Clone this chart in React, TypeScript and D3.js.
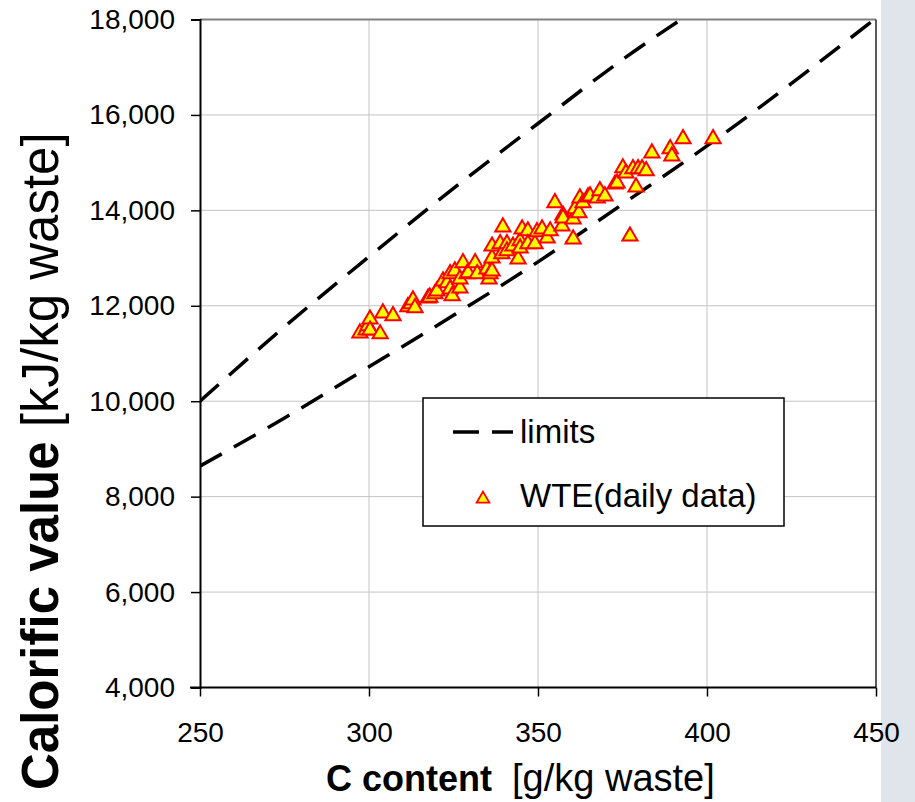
import React, { useEffect, useRef } from "react";
import * as d3 from "d3";

// C content [g/kg waste] of the daily WTE samples
const cContent = [
  297.3, 299.1, 299.7, 300.3, 300.3, 303.3, 304.1, 307.1, 311.5, 312.4,
  313.0, 313.6, 317.5, 318.0, 319.5, 320.1, 321.9, 323.1, 324.0, 324.0,
  324.6, 325.4, 326.9, 326.9, 327.8, 329.0, 329.3, 331.4, 332.0, 334.9,
  335.5, 335.8, 336.4, 336.4, 336.4, 338.8, 339.3, 339.6, 340.8, 340.8,
  342.6, 344.1, 344.7, 344.7, 345.3, 347.0, 347.0, 349.1, 349.7, 351.2,
  352.7, 353.6, 355.0, 357.1, 357.4, 357.4, 360.4, 360.4, 360.9, 362.1,
  362.4, 363.3, 364.8, 365.4, 367.5, 368.3, 369.8, 372.8, 373.4, 375.1,
  376.0, 377.2, 378.1, 379.0, 379.6, 380.8, 382.0, 383.7, 389.1, 389.6,
  392.9, 401.8,
];
// calorific value [kJ/kg waste] of the same samples
const calValue = [
  11450, 11510, 11600, 11740, 11510, 11430, 11870, 11810, 12000, 12060,
  12140, 11980, 12180, 12200, 12270, 12330, 12540, 12500, 12370, 12690,
  12230, 12750, 12390, 12580, 12920, 12690, 12710, 12920, 12690, 12790,
  12580, 12690, 12750, 13020, 13270, 13320, 13110, 13670, 13320, 13170,
  13270, 13000, 13380, 13230, 13630, 13590, 13320, 13320, 13570, 13630,
  13440, 13590, 14180, 13690, 13920, 13860, 13840, 13420, 14050, 13970,
  14280, 14180, 14300, 14320, 14280, 14430, 14320, 14570, 14590, 14910,
  14800, 13480, 14890, 14510, 14890, 14890, 14850, 15220, 15310, 15160,
  15520, 15520,
];

// limit curves
const upperC = [250, 275, 300, 325, 350, 375, 400];
const upperValue = [10000, 11560, 13030, 14460, 15820, 17160, 18360];
const lowerC = [250, 275, 300, 325, 350, 375, 400, 425, 450];
const lowerValue = [8640, 9650, 10720, 11800, 12920, 14130, 15350, 16660, 18030];

const xTicks = [250, 300, 350, 400, 450];
const yTicks = [4000, 6000, 8000, 10000, 12000, 14000, 16000, 18000];

const W = 915;
const H = 802;
const margin = { left: 200, right: 39, top: 19.5, bottom: 114.5 };
const FONT = "'Liberation Sans', Arial, sans-serif";

const App = () => {
  const svgRef = useRef(null);

  useEffect(() => {
    const svg = d3.select(svgRef.current);
    svg.selectAll("*").remove();

    const x = d3.scaleLinear().domain([250, 450]).range([margin.left, W - margin.right]);
    const y = d3.scaleLinear().domain([4000, 18000]).range([H - margin.bottom, margin.top]);
    const [x0, x1] = x.range();
    const [y0, y1] = y.range();

    // grey strip at the right edge
    svg.append("rect").attr("x", 881).attr("y", 0).attr("width", W - 881).attr("height", H).attr("fill", "#dfe5eb");

    svg.append("defs").append("clipPath").attr("id", "plot-clip")
      .append("rect").attr("x", x0).attr("y", y1).attr("width", x1 - x0).attr("height", y0 - y1);

    // grid
    svg.append("g").selectAll("line").data(yTicks.slice(1, -1)).join("line")
      .attr("x1", x0).attr("x2", x1).attr("y1", (d) => y(d)).attr("y2", (d) => y(d))
      .attr("stroke", "#c4c4c4").attr("stroke-width", 1);
    svg.append("g").selectAll("line").data(xTicks.slice(1, -1)).join("line")
      .attr("x1", (d) => x(d)).attr("x2", (d) => x(d)).attr("y1", y1).attr("y2", y0)
      .attr("stroke", "#c4c4c4").attr("stroke-width", 1);
    svg.append("line").attr("x1", x0).attr("x2", x1).attr("y1", y(18000)).attr("y2", y(18000))
      .attr("stroke", "#808080").attr("stroke-width", 2);
    svg.append("line").attr("x1", x(450)).attr("x2", x(450)).attr("y1", y1).attr("y2", y0)
      .attr("stroke", "#222").attr("stroke-width", 1.5);

    // limit curves
    const line = d3.line().curve(d3.curveMonotoneX).x((d) => x(d[0])).y((d) => y(d[1]));
    const limits = [
      upperC.map((c, i) => [c, upperValue[i]]),
      lowerC.map((c, i) => [c, lowerValue[i]]),
    ];
    svg.append("g").attr("clip-path", "url(#plot-clip)").selectAll("path").data(limits).join("path")
      .attr("d", line)
      .attr("fill", "none")
      .attr("stroke", "#000")
      .attr("stroke-width", 3.5)
      .attr("stroke-dasharray", "25,14");

    // daily data
    const tri = d3.symbol(d3.symbolTriangle, 100);
    svg.append("g").selectAll("path").data(cContent).join("path")
      .attr("transform", (d, i) => `translate(${x(d)},${y(calValue[i]) + 1})`)
      .attr("d", tri)
      .attr("fill", "#ffff00")
      .attr("stroke", "#ff0000")
      .attr("stroke-width", 2);

    // axes
    const yAxis = svg.append("g").attr("transform", `translate(${x0},0)`)
      .call(d3.axisLeft(y).tickValues(yTicks).tickFormat(d3.format(",")).tickSize(9).tickPadding(16));
    const xAxis = svg.append("g").attr("transform", `translate(0,${y0})`)
      .call(d3.axisBottom(x).tickValues(xTicks).tickFormat(d3.format("d")).tickSize(9).tickPadding(26));
    [yAxis, xAxis].forEach((g) => {
      g.select(".domain").attr("stroke", "#000").attr("stroke-width", 2);
      g.selectAll(".tick line").attr("stroke", "#000").attr("stroke-width", 1.5);
      g.selectAll(".tick text").attr("fill", "#000").style("font-family", FONT).style("font-size", "28px");
    });
    xAxis.select(".domain").attr("d", `M${x0 - 10},0H${x1}`);

    // axis titles
    const xt = svg.append("g").style("font-family", FONT).attr("fill", "#000");
    xt.append("text").attr("x", 326).attr("y", 791).style("font-size", "36px").style("font-weight", "bold").text("C content");
    xt.append("text").attr("x", 512).attr("y", 791).style("font-size", "38px").text("[g/kg waste]");

    const yt = svg.append("text").attr("transform", "translate(58,790) rotate(-90)")
      .style("font-family", FONT).style("font-size", "51px").attr("fill", "#000");
    yt.append("tspan").style("font-weight", "bold").text("Calorific value");
    yt.append("tspan").text(" [kJ/kg waste]");

    // legend
    const lg = svg.append("g");
    lg.append("rect").attr("x", 423).attr("y", 398).attr("width", 361).attr("height", 128)
      .attr("fill", "#fff").attr("stroke", "#000").attr("stroke-width", 1.5);
    lg.append("line").attr("x1", 453).attr("x2", 513).attr("y1", 432).attr("y2", 432)
      .attr("stroke", "#000").attr("stroke-width", 3.5).attr("stroke-dasharray", "26,13");
    lg.append("path").attr("transform", "translate(483,499)").attr("d", d3.symbol(d3.symbolTriangle, 70))
      .attr("fill", "#ffff00").attr("stroke", "#ff0000").attr("stroke-width", 1.8);
    lg.append("text").attr("x", 520).attr("y", 443).style("font-family", FONT).style("font-size", "33px").text("limits");
    lg.append("text").attr("x", 520).attr("y", 507).style("font-family", FONT).style("font-size", "33px").text("WTE(daily data)");
  }, []);

  return (
    <svg
      ref={svgRef}
      width={W}
      height={H}
      style={{ position: "absolute", left: 0, top: 0, background: "#fff" }}
    ></svg>
  );
};

export default App;
